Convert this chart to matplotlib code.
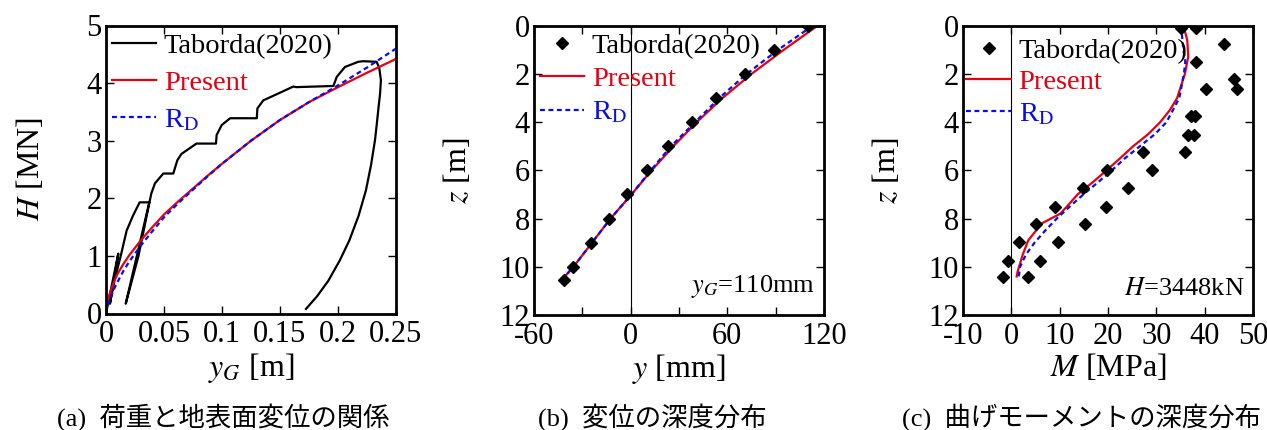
import matplotlib
matplotlib.use("Agg")
import matplotlib.pyplot as plt
from matplotlib.ticker import MultipleLocator

plt.rcParams["font.family"] = ["Liberation Serif", "Noto Sans CJK JP"]
plt.rcParams["mathtext.fontset"] = "stix"
plt.rcParams["axes.linewidth"] = 2.0
plt.rcParams["axes.unicode_minus"] = False

RED = "#e60012"
BLUE = "#0a0af0"

# (a) load - ground surface displacement
taborda_yg = [0, 0.0106, 0.0034, 0.007, 0.0127, 0.0178, 0.0233, 0.029, 0.0373,
              0.017, 0.028, 0.039, 0.0422, 0.0494, 0.058, 0.0615, 0.065, 0.078,
              0.0948, 0.0954, 0.0997, 0.107, 0.130, 0.1305, 0.1356, 0.1615,
              0.164, 0.196, 0.199, 0.206, 0.2175, 0.2218, 0.2333, 0.2356,
              0.237, 0.2362, 0.235, 0.2335, 0.2319, 0.2285, 0.2241, 0.2178,
              0.2098, 0.2015, 0.1917, 0.182, 0.1724]
taborda_h = [0, 1.04, 0.17, 0.55, 1.0, 1.44, 1.70, 1.93, 1.93,
             0.17, 1.0, 2.08, 2.26, 2.43, 2.43, 2.66, 2.77, 2.95,
             2.95, 3.1, 3.27, 3.39, 3.39, 3.56, 3.70, 3.94,
             3.93, 3.95, 4.11, 4.28, 4.37, 4.38, 4.37, 4.26,
             4.05, 3.80, 3.59, 3.30, 3.01, 2.58, 2.14, 1.70,
             1.27, 0.92, 0.57, 0.30, 0.08]

curve_yg = [0, 0.001, 0.0025, 0.005, 0.0075, 0.01, 0.015, 0.02, 0.03, 0.04,
            0.05, 0.0625, 0.075, 0.0875, 0.1, 0.125, 0.15, 0.175, 0.2, 0.225,
            0.25]
present_h = [0, 0.18, 0.30, 0.45, 0.58, 0.69, 0.86, 1.01, 1.27, 1.50,
             1.72, 1.95, 2.17, 2.39, 2.60, 3.00, 3.36, 3.67, 3.93, 4.18,
             4.42]
rd_h = [0, 0.10, 0.20, 0.33, 0.45, 0.55, 0.74, 0.90, 1.18, 1.43,
        1.67, 1.92, 2.15, 2.38, 2.60, 3.00, 3.36, 3.67, 3.96, 4.27,
        4.60]

# (b) displacement along depth
taborda_disp = [110, 89, 71, 53, 38, 23.4, 9.9, -2.5, -13.3, -24.8, -35.6, -41.2]
taborda_disp_z = [0.0, 1, 2, 3, 4, 5, 6, 7, 8, 9, 10, 10.55]
disp_z = [0, 1, 2, 3, 4, 5, 6, 7, 8, 9, 10, 10.6]
present_disp = [116, 95, 75, 57, 41, 26.5, 13, 0.5, -12.5, -24, -35.5, -43.5]
rd_disp = [113, 91.5, 72, 55, 40, 25, 12.5, 0.5, -12.5, -24, -35.5, -43.5]

# (c) bending moment along depth
taborda_m = [35.2, 38.3, 43.9, 38.2, 46.1, 40.2, 46.7, 37.2, 38.0, 36.5, 37.7,
             35.9, 27.2, 29.2, 19.7, 14.8, 24.2, 9.1, 19.5, 5.0, 15.2, 1.65,
             9.6, -0.6, 5.9, -1.66, 3.4]
taborda_m_z = [0.1, 0.1, 0.76, 1.52, 2.22, 2.64, 2.64, 3.75, 3.75, 4.52, 4.52,
               5.24, 5.24, 6.0, 6.0, 6.75, 6.75, 7.5, 7.5, 8.24, 8.24, 8.99,
               8.99, 9.75, 9.75, 10.44, 10.44]
present_m_z = [0, 0.6, 1.28, 2, 3, 3.5, 4, 4.5, 5, 5.5, 6, 6.5, 7, 7.5, 7.8,
               8.2, 8.9, 9.5, 10.2, 10.4]
present_m = [35.6, 36.4, 36.6, 35.9, 34.3, 32.8, 30.8, 28.3, 25.2, 22.5, 19.7,
             16.8, 13.7, 11.5, 10.1, 6.3, 3.5, 2.35, 1.3, 1.1]
rd_m_z = [0, 1, 1.5, 2, 3, 4, 4.5, 5, 5.5, 6, 6.5, 7, 7.5, 8, 8.5, 9, 9.5,
          10, 10.55]
rd_m = [35.1, 35.6, 36.0, 35.7, 34.75, 32.1, 29.7, 26.6, 23.5, 20.8, 17.9,
        14.9, 12.1, 9.4, 7.0, 4.8, 3.0, 1.8, 1.45]

TICK_FS = 22
LABEL_FS = 23
LEG_FS = 20.5
DASH = (0, (2.2, 1.6))


def style_axes(ax):
    ax.tick_params(which="both", direction="in", top=True, right=True,
                   length=6, width=1.0, labelsize=TICK_FS, pad=3)
    ax.tick_params(axis="x", which="both", pad=5)


def add_legend(ax, anchor, spacing):
    return ax.legend(loc="upper left", bbox_to_anchor=anchor, frameon=False,
                     fontsize=LEG_FS, handlelength=1.55, handletextpad=0.28,
                     labelspacing=spacing, borderpad=0, borderaxespad=0,
                     labelcolor="linecolor")


fig = plt.figure(figsize=(12.67, 4.30), dpi=100)

# ---- (a)
ax_a = fig.add_axes([106 / 1267, 1 - 313.5 / 430, 290 / 1267, 288 / 430])
ax_a.plot(taborda_yg, taborda_h, color="black", lw=1.6, label="Taborda(2020)")
ax_a.plot(curve_yg, present_h, color=RED, lw=1.6, label="Present")
ax_a.plot(curve_yg, rd_h, color=BLUE, lw=1.6, ls=DASH, label=r"R$_\mathrm{D}$")
ax_a.set_xlim(0, 0.25)
ax_a.set_ylim(0, 5)
ax_a.set_xticks([0, 0.05, 0.1, 0.15, 0.2, 0.25])
ax_a.set_xticklabels(["0", "0.05", "0.1", "0.15", "0.2", "0.25"])
ax_a.set_yticks([0, 1, 2, 3, 4, 5])
style_axes(ax_a)
ax_a.set_xlabel(r"$y_G$ [m]", fontsize=LABEL_FS, labelpad=1)
ax_a.set_ylabel(r"$H$ [MN]", fontsize=LABEL_FS, labelpad=29)
add_legend(ax_a, (0.02, 0.975), 0.4)

# ---- (b)
ax_b = fig.add_axes([534 / 1267, 1 - 315 / 430, 290 / 1267, 289.3 / 430])
ax_b.axvline(0, color="black", lw=0.8)
ax_b.plot(taborda_disp, taborda_disp_z, ls="none", marker="D", ms=6,
          color="black", label="Taborda(2020)", zorder=4)
ax_b.plot(present_disp, disp_z, color=RED, lw=1.6, label="Present")
ax_b.plot(rd_disp, disp_z, color=BLUE, lw=1.6, ls=DASH, label=r"R$_\mathrm{D}$")
ax_b.set_xlim(-60, 120)
ax_b.set_ylim(12, 0)
ax_b.set_xticks([-60, 0, 60, 120])
ax_b.xaxis.set_minor_locator(MultipleLocator(30))
ax_b.set_yticks([0, 2, 4, 6, 8, 10, 12])
style_axes(ax_b)
ax_b.set_xlabel(r"$y$ [mm]", fontsize=LABEL_FS, labelpad=1)
ax_b.set_ylabel(r"$z$ [m]", fontsize=LABEL_FS, labelpad=19)
add_legend(ax_b, (0.02, 0.975), 0.26)
ax_b.text(0.97, 0.10, r"$y_G$=110mm", transform=ax_b.transAxes,
          ha="right", va="center", fontsize=19)

# ---- (c)
ax_c = fig.add_axes([963 / 1267, 1 - 315 / 430, 290 / 1267, 289.3 / 430])
ax_c.axvline(0, color="black", lw=0.8)
ax_c.plot(taborda_m, taborda_m_z, ls="none", marker="D", ms=6,
          color="black", label="Taborda(2020)", zorder=4)
ax_c.plot(present_m, present_m_z, color=RED, lw=1.6, label="Present")
ax_c.plot(rd_m, rd_m_z, color=BLUE, lw=1.6, ls=DASH, label=r"R$_\mathrm{D}$")
ax_c.set_xlim(-10, 50)
ax_c.set_ylim(12, 0)
ax_c.set_xticks([-10, 0, 10, 20, 30, 40, 50])
ax_c.set_yticks([0, 2, 4, 6, 8, 10, 12])
style_axes(ax_c)
ax_c.set_xlabel(r"$M$ [MPa]", fontsize=LABEL_FS, labelpad=1)
ax_c.set_ylabel(r"$z$ [m]", fontsize=LABEL_FS, labelpad=19)
add_legend(ax_c, (0.012, 0.958), 0.2)
ax_c.text(0.97, 0.09, r"$H$=3448kN", transform=ax_c.transAxes,
          ha="right", va="center", fontsize=19)

# captions under each panel
cap_fs = 19
fig.text(223 / 1267, 1 - 417 / 430, "(a)  荷重と地表面変位の関係",
         ha="center", va="center", fontsize=cap_fs)
fig.text(652 / 1267, 1 - 417 / 430, "(b)  変位の深度分布",
         ha="center", va="center", fontsize=cap_fs)
fig.text(1081 / 1267, 1 - 417 / 430, "(c)  曲げモーメントの深度分布",
         ha="center", va="center", fontsize=cap_fs)

fig.savefig("out.png", dpi=100)
